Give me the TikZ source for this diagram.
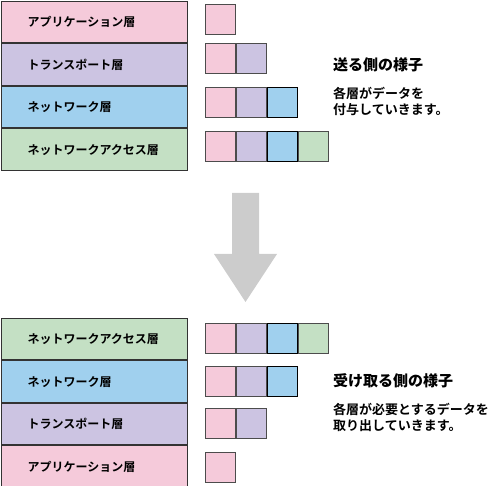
\documentclass[tikz,border=0pt]{standalone}
\usepackage{fontspec}
\setmainfont{Noto Sans CJK JP}
\newfontfamily\jpbold{Noto Sans CJK JP Bold}
\newfontfamily\jpblack{Noto Sans CJK JP Black}
\usetikzlibrary{positioning}
\usetikzlibrary{shapes}

\definecolor{appcol}{RGB}{245,202,218}
\definecolor{trncol}{RGB}{204,196,226}
\definecolor{netcol}{RGB}{160,208,238}
\definecolor{acccol}{RGB}{196,224,196}
\definecolor{arrcol}{RGB}{204,204,204}

\begin{document}
\begin{tikzpicture}[x=1pt,y=-1pt,
	layer/.style={rectangle,draw=black!80,line width=1pt,minimum width=186pt,minimum height=41.5pt,text width=134pt,inner xsep=26pt,align=left,font=\jpbold\fontsize{12}{14}\selectfont},
	cell/.style={rectangle,draw=black!70,line width=1pt,minimum size=30pt,inner sep=0pt},
	title/.style={anchor=west,inner sep=0pt,font=\jpblack\fontsize{15}{18}\selectfont},
	note/.style={anchor=north west,inner sep=0pt,align=left,font=\jpbold\fontsize{13}{16}\selectfont}]
\useasboundingbox (0,0) rectangle (491,486);

% sending side
\node [layer,fill=appcol,anchor=north west] (sapp) at (1,1) {アプリケーション層};
\node [layer,fill=trncol,below=0pt of sapp] (strn) {トランスポート層};
\node [layer,fill=netcol,below=0pt of strn] (snet) {ネットワーク層};
\node [layer,fill=acccol,below=0pt of snet] (sacc) {ネットワークアクセス層};

\node [cell,fill=appcol,anchor=west] (s1a) at (205,20) {};

\node [cell,fill=appcol,anchor=west] (s2a) at (205,59) {};
\node [cell,fill=trncol,right=0pt of s2a] (s2b) {};

\node [cell,fill=appcol,anchor=west] (s3a) at (205,103) {};
\node [cell,fill=trncol,right=0pt of s3a] (s3b) {};
\node [cell,fill=netcol,draw=black,right=0pt of s3b] (s3c) {};

\node [cell,fill=appcol,anchor=west] (s4a) at (205,147) {};
\node [cell,fill=trncol,right=0pt of s4a] (s4b) {};
\node [cell,fill=netcol,draw=black,right=0pt of s4b] (s4c) {};
\node [cell,fill=acccol,right=0pt of s4c] (s4d) {};

\node [title] (stitle) at (333,65) {送る側の様子};
\node [note,below=15pt of stitle.south west,anchor=north west] (snote) {各層がデータを\\付与していきます。};

% arrow
\fill [arrcol] (232,193) -- (259,193) -- (259,254) -- (277,254) -- (245.5,302)
	-- (214,254) -- (232,254) -- cycle;

% receiving side
\node [layer,fill=acccol,anchor=north west] (racc) at (1,318) {ネットワークアクセス層};
\node [layer,fill=netcol,below=0pt of racc] (rnet) {ネットワーク層};
\node [layer,fill=trncol,below=0pt of rnet] (rtrn) {トランスポート層};
\node [layer,fill=appcol,below=0pt of rtrn] (rapp) {アプリケーション層};

\node [cell,fill=appcol,anchor=west] (r1a) at (205,339) {};
\node [cell,fill=trncol,right=0pt of r1a] (r1b) {};
\node [cell,fill=netcol,draw=black,right=0pt of r1b] (r1c) {};
\node [cell,fill=acccol,right=0pt of r1c] (r1d) {};

\node [cell,fill=appcol,anchor=west] (r2a) at (205,382) {};
\node [cell,fill=trncol,right=0pt of r2a] (r2b) {};
\node [cell,fill=netcol,draw=black,right=0pt of r2b] (r2c) {};

\node [cell,fill=appcol,anchor=west] (r3a) at (205,424) {};
\node [cell,fill=trncol,right=0pt of r3a] (r3b) {};

\node [cell,fill=appcol,anchor=west] (r4a) at (205,468) {};

\node [title] (rtitle) at (333,381) {受け取る側の様子};
\node [note,below=15pt of rtitle.south west,anchor=north west] (rnote) {各層が必要とするデータを\\取り出していきます。};
\end{tikzpicture}
\end{document}
